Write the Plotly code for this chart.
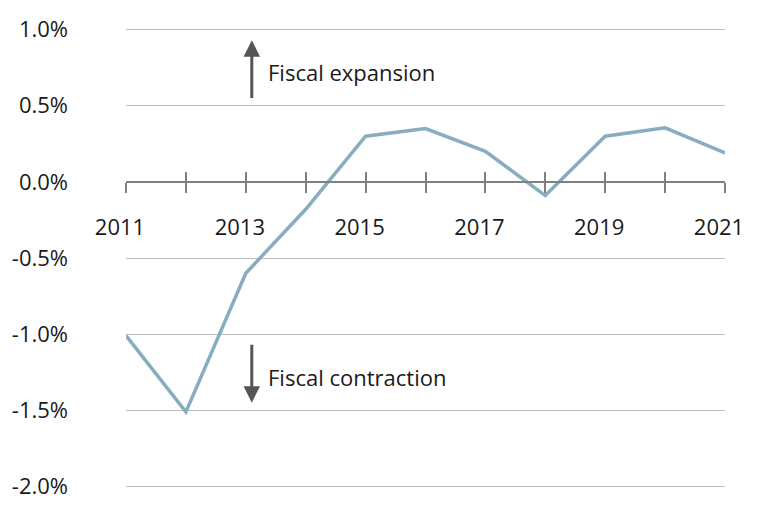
import plotly.graph_objects as go

years = [2011, 2012, 2013, 2014, 2015, 2016, 2017, 2018, 2019, 2020, 2021]
values = [-1.01, -1.51, -0.60, -0.18, 0.30, 0.35, 0.20, -0.09, 0.30, 0.355, 0.19]
year_labels = [str(y) if y % 2 == 1 else "" for y in years]
y_ticks = [1.0, 0.5, 0.0, -0.5, -1.0, -1.5, -2.0]
y_labels = ["%.1f%%" % v for v in y_ticks]

FONT = "Open Sans"
FS = 22
ymin, ymax = -2.01, 1.01
zero_pos = (0 - ymin) / (ymax - ymin)

fig = go.Figure()
fig.add_trace(go.Scatter(x=years, y=values, mode="lines",
                         line=dict(color="#87aebe", width=3.5),
                         hoverinfo="skip", showlegend=False))
fig.add_trace(go.Scatter(x=[years[0]], y=[0], xaxis="x2", mode="markers",
                         marker=dict(opacity=0), hoverinfo="skip", showlegend=False))

axis_common = dict(range=[years[0], years[-1]], showgrid=False, zeroline=False,
                   anchor="free", position=zero_pos, automargin=False,
                   tickvals=years, ticklen=10, tickwidth=2, tickcolor="#808080")

fig.update_layout(
    width=778, height=518,
    margin=dict(l=118, r=61, t=20, b=38),
    paper_bgcolor="white", plot_bgcolor="white",
    font=dict(family=FONT, size=FS, color="#1a1a1a"),
    xaxis=dict(**axis_common, showline=True, linecolor="#808080", linewidth=2,
               ticks="outside", ticktext=year_labels,
               tickfont=dict(family=FONT, size=FS, color="#1a1a1a"),
               ticklabelstandoff=16, ticklabelshift=-6),
    xaxis2=dict(**axis_common, overlaying="x", showline=False, ticks="inside",
                showticklabels=False),
    yaxis=dict(range=[ymin, ymax], tickvals=y_ticks, ticktext=y_labels,
               showgrid=True, gridcolor="#bdbdbd", gridwidth=1, zeroline=False,
               showline=False, ticks="", ticklabelstandoff=57, automargin=False,
               tickfont=dict(family=FONT, size=FS, color="#1a1a1a")),
)

arrow_x = 2013.1
fig.add_annotation(x=arrow_x, y=0.93, ax=arrow_x, ay=0.54, xref="x", yref="y",
                   axref="x", ayref="y", text="", showarrow=True,
                   arrowhead=2, arrowsize=1.1, arrowwidth=3, arrowcolor="#555555")
fig.add_annotation(x=arrow_x, y=-1.45, ax=arrow_x, ay=-1.06, xref="x", yref="y",
                   axref="x", ayref="y", text="", showarrow=True,
                   arrowhead=2, arrowsize=1.1, arrowwidth=3, arrowcolor="#555555")
fig.add_annotation(x=2013.33, y=0.72, text="Fiscal expansion", showarrow=False,
                   xanchor="left", yanchor="middle",
                   font=dict(family=FONT, size=FS, color="#1a1a1a"))
fig.add_annotation(x=2013.33, y=-1.28, text="Fiscal contraction", showarrow=False,
                   xanchor="left", yanchor="middle",
                   font=dict(family=FONT, size=FS, color="#1a1a1a"))

fig.write_html("out.html")
